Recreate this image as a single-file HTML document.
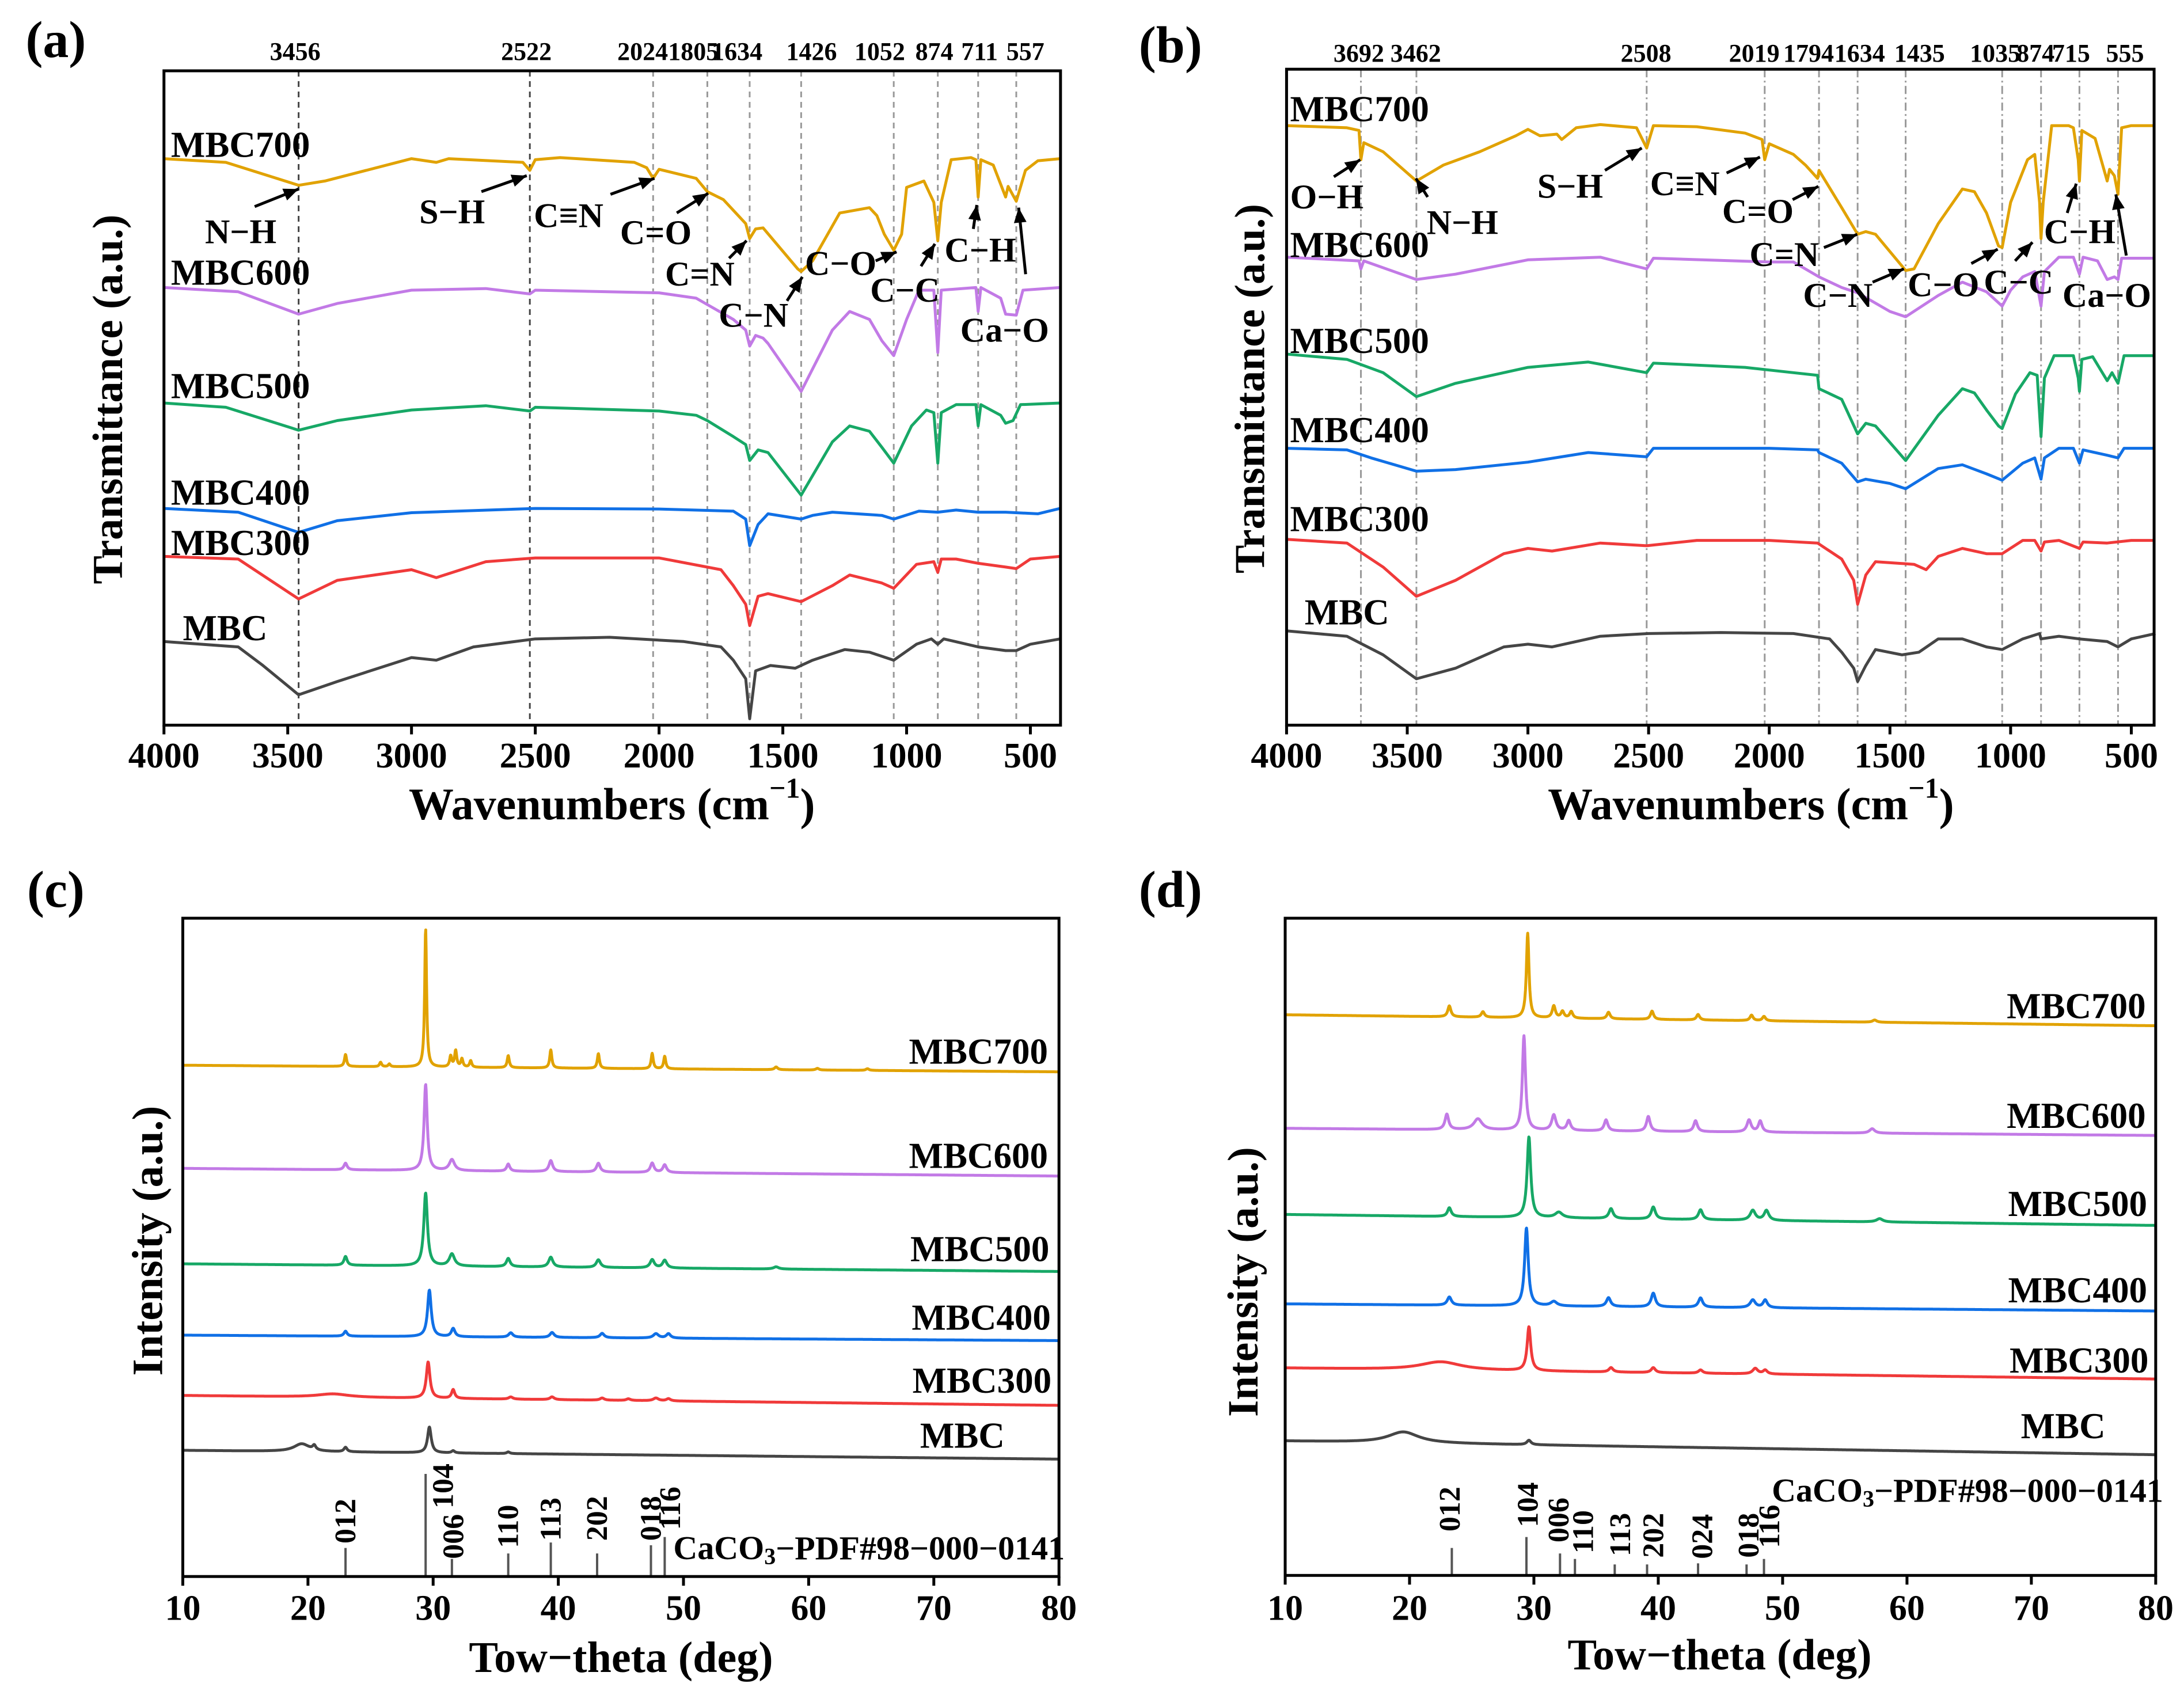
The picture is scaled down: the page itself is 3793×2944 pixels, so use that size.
<!DOCTYPE html>
<html><head><meta charset="utf-8"><title>FTIR and XRD of MBC samples</title>
<style>html,body{margin:0;padding:0;background:#fff}svg{display:block}</style></head>
<body>
<svg id="fig" xmlns="http://www.w3.org/2000/svg" width="3793" height="2944" viewBox="0 0 3793 2944">
<rect x="0" y="0" width="3793" height="2944" fill="#fff"/>
</svg>
<script>
// ---------- FTIR (a) data: wavenumbers (cm-1) and transmittance (a.u.) ----------
const a700_wn=[4000,3750,3456,3350,3000,2900,2850,2550,2522,2500,2400,2100,2050,2024,2000,1850,1805,1740,1650,1634,1610,1580,1440,1426,1380,1270,1150,1120,1090,1052,1020,1000,930,890,874,860,820,740,720,711,700,650,600,590,557,520,470,380];
const a700_t=[106.4,105.7,101.4,102.2,106.4,105.7,106.4,105.7,104.2,106.2,106.6,105.7,104.7,102.7,104.4,102.7,100.2,98.7,94.2,91.4,93.2,93.4,85.7,85.2,87.2,96.2,97.2,95.7,92.2,89.2,92.2,101,102.2,98.2,91,98.2,106.2,106.6,106.2,99.2,106.2,105.2,99.2,101.2,98.4,104.2,106,106.4];
const a600_wn=[4000,3700,3456,3300,3000,2700,2522,2500,2000,1850,1805,1700,1650,1634,1610,1580,1560,1426,1300,1230,1150,1100,1052,1000,950,890,874,860,720,711,700,620,600,557,530,380];
const a600_t=[82.2,81.4,77.2,79.2,81.7,82,81,81.7,81.2,80.2,79,76.2,74.2,71.2,73.2,72.7,71.7,62.7,74.2,77.7,76.2,72.2,69.4,76.2,81.7,81.7,70,81.7,82.2,77.7,82.2,80.2,77.2,77,81.7,82.2];
const a500_wn=[4000,3750,3456,3300,3000,2700,2522,2500,2000,1850,1805,1700,1650,1634,1600,1560,1426,1300,1230,1150,1100,1052,980,920,890,874,860,800,720,711,700,620,600,570,540,380];
const a500_t=[60.5,59.7,55.4,57.2,59.2,60,59,59.7,59,58.2,57.2,54.2,52.7,49.7,51.7,51.2,43.2,53.2,56.2,55.2,52.2,49.2,56.2,59.2,58.7,49.2,58.7,60.2,60.2,56.2,60.2,58.2,56.7,57.2,60.2,60.5];
const a400_wn=[4000,3700,3456,3300,3000,2500,2000,1700,1650,1634,1600,1560,1426,1380,1300,1100,1052,950,874,800,711,600,470,380];
const a400_t=[40.7,40,36.2,38.4,39.9,40.7,40.6,40.2,38.7,33.7,37.7,39.7,38.7,39.4,40,39.4,38.7,40.2,40,40.4,40,40,39.7,40.7];
const a300_wn=[4000,3700,3456,3300,3000,2900,2700,2500,2000,1750,1700,1650,1634,1600,1560,1426,1300,1230,1100,1052,960,890,874,860,800,711,600,557,500,380];
const a300_t=[31.7,31.2,23.7,27.2,29.2,27.7,30.7,31.4,31.4,29.2,26.2,22.7,18.7,24.2,24.7,23.2,26.2,28.2,26.7,25.7,30.2,30.7,28.7,31.2,31.2,30.4,29.7,29.4,31.2,31.7];
const aMBC_wn=[4000,3700,3600,3456,3300,3000,2900,2750,2500,2200,1900,1750,1700,1650,1634,1610,1550,1450,1380,1250,1150,1052,960,900,874,850,711,600,557,500,380];
const aMBC_t=[15.7,14.7,11.2,5.7,8.2,12.7,12.2,14.7,16.2,16.5,15.7,14.7,12.2,8.7,1.2,10.2,11.2,10.7,12.2,14.2,13.7,12.2,15.2,16.2,15.2,16.2,14.7,14,14,15.2,16.2];
const aMarks=[3456,2522,2024,1805,1634,1426,1052,874,711,557];

// ---------- FTIR (b) data ----------
const b700_wn=[4000,3750,3700,3692,3680,3600,3462,3350,3200,3050,3000,2950,2880,2860,2800,2700,2550,2508,2480,2300,2100,2030,2019,2000,1900,1850,1800,1794,1700,1634,1600,1560,1435,1400,1300,1200,1150,1100,1050,1035,1000,930,900,880,874,865,830,760,740,720,715,705,650,600,590,570,555,540,500,400];
const b700_t=[112.6,112.2,111.7,106.2,109.4,107.7,102.2,105.2,107.7,110.7,111.9,110.7,111,110,112.2,112.8,112.2,108.4,112.6,112.4,111.2,110,106.2,109.2,107.2,105.2,102.7,104.2,97.2,92.2,92.7,92.2,85.4,85.7,94.2,100.7,100.2,96.2,90,89.7,98.2,106.2,107.2,98.2,91.4,98.2,112.6,112.6,112.2,106.2,102.2,111.7,110.2,102.2,104.4,103.2,99.7,112.2,112.6,112.6];
const b600_wn=[4000,3700,3692,3680,3462,3300,3000,2700,2508,2480,2000,1900,1794,1700,1634,1500,1435,1300,1200,1100,1035,1000,950,900,874,860,800,740,715,700,640,600,570,555,540,400];
const b600_t=[87.9,87.2,85.7,87.2,83.7,84.7,87.4,87.9,85.7,87.7,87,87,84.2,82.2,81.2,77.7,76.7,80.7,83.2,81.4,78.7,81.7,84.2,85.2,78.7,85.2,87.9,87.9,84.7,87.9,87.2,83.7,84.2,83.7,87.7,87.7];
const b500_wn=[4000,3750,3600,3462,3300,3000,2750,2508,2480,2100,1900,1800,1794,1700,1634,1600,1560,1435,1300,1200,1150,1100,1050,1035,980,920,890,874,860,820,740,720,715,705,660,600,580,555,530,400];
const b500_t=[69.7,68.7,66.2,61.7,64.2,67.2,68.2,66.2,68,67.2,66.2,65.7,63.2,61.2,54.7,56.7,56.2,49.7,58.2,63.2,62.4,59.2,56.2,55.7,62.2,66.2,65.7,54.2,65.2,69.4,69.4,65.2,62.7,68.7,69.2,64.7,66.2,64.2,69.4,69.4];
const b400_wn=[4000,3750,3650,3462,3300,3000,2750,2508,2480,2000,1800,1794,1700,1634,1600,1500,1435,1300,1200,1100,1035,950,900,874,860,800,740,715,700,600,555,530,400];
const b400_t=[52,51.7,50.2,47.7,48,49.4,51.2,50.4,52,52,51.7,51.2,49.2,45.7,46.2,45.4,44.4,48.2,48.9,47.2,46,49.2,50.2,46.2,50.2,52,52,49.2,51.7,50.7,50.2,52,52];
const b300_wn=[4000,3750,3600,3462,3300,3100,3000,2900,2700,2508,2300,2000,1800,1700,1650,1634,1600,1560,1400,1350,1300,1200,1100,1035,950,900,874,860,800,715,700,600,500,400];
const b300_t=[34.9,34.2,29.7,24.2,27.2,32.2,33.2,32.7,34.2,33.7,34.7,34.7,34.2,31.2,27.2,22.7,28.2,30.7,30.2,29.2,31.7,33.2,32.2,32.2,34.7,34.7,32.7,34.4,34.7,33.2,34.4,34.2,34.7,34.7];
const bMBC_wn=[4000,3750,3600,3462,3300,3100,3000,2900,2700,2500,2200,1900,1750,1700,1650,1634,1600,1560,1450,1380,1300,1200,1100,1035,950,880,874,800,715,600,555,500,400];
const bMBC_t=[17.7,16.7,13.2,8.7,10.7,14.7,15.2,14.7,16.7,17.2,17.4,17.2,16.2,13.7,10.7,8.2,11.2,14.2,13.2,13.7,16.2,16.2,14.7,14.2,16.2,17.2,16.2,16.7,16.2,15.7,14.7,16.2,17.2];
const bMarks=[3692,3462,2508,2019,1794,1634,1435,1035,874,715,555];

// ---------- XRD (c) data: baseline start/end, peak positions (2θ), heights, widths ----------
const c700_base=[932,920]; const c700_pos=[23.0,25.8,26.5,29.4,31.4,31.8,32.3,33.0,36.0,39.4,43.2,47.5,48.5,57.4,60.7,64.7];
const c700_h=[22,8,5,253,20,30,15,12,22,33,27,28,23,5,3,3]; const c700_w=[0.2,0.2,0.2,0.18,0.2,0.2,0.2,0.2,0.2,0.2,0.2,0.2,0.2,0.3,0.3,0.3];
const c600_base=[744,730]; const c600_pos=[23,29.4,31.5,36,39.4,43.2,47.5,48.5];
const c600_h=[12,157,20,13,20,16,17,14]; const c600_w=[0.3,0.3,0.5,0.3,0.35,0.35,0.35,0.35];
const c500_base=[570,556]; const c500_pos=[23,29.4,31.5,36,39.4,43.2,47.5,48.5,57.4];
const c500_h=[16,133,22,15,18,14,15,14,4]; const c500_w=[0.3,0.35,0.5,0.35,0.4,0.4,0.4,0.4,0.5];
const c400_base=[440,430]; const c400_pos=[23,29.7,31.6,36.2,39.5,43.5,47.8,48.8];
const c400_h=[9,85,15,8,9,8,8,8]; const c400_w=[0.3,0.35,0.35,0.4,0.4,0.4,0.5,0.4];
const c300_base=[330,312]; const c300_pos=[22,29.6,31.6,36.2,39.5,43.5,45.6,47.8,48.8];
const c300_h=[6,66,16,4,5,4,3,5,4]; const c300_w=[3,0.35,0.3,0.4,0.4,0.4,0.4,0.5,0.4];
const cMBC_base=[230,214]; const cMBC_pos=[19.5,20.5,23,29.7,31.6,36];
const cMBC_h=[14,8,8,47,4,3]; const cMBC_w=[1.5,0.3,0.3,0.35,0.3,0.3];
const cRefHKL=['012','104','006','110','113','202','018','116'];
const cRefPos=[23.0,29.4,31.5,36.0,39.4,43.1,47.4,48.5];
const cRefInt=[52,187,32,42,62,42,57,72];

// ---------- XRD (d) data ----------
const d700_base=[1022,1002]; const d700_pos=[23.2,25.9,29.5,31.6,32.3,33.0,36.0,39.5,43.2,47.5,48.5,57.4];
const d700_h=[20,10,154,22,12,12,12,15,10,10,8,4]; const d700_w=[0.3,0.3,0.25,0.3,0.3,0.3,0.3,0.3,0.3,0.3,0.3,0.4];
const d600_base=[815,802]; const d600_pos=[23,25.5,29.2,31.6,32.8,35.8,39.2,43.0,47.3,48.2,57.2];
const d600_h=[28,20,172,28,18,20,27,20,22,20,8]; const d600_w=[0.35,0.8,0.3,0.4,0.35,0.35,0.35,0.35,0.4,0.35,0.5];
const d500_base=[658,638]; const d500_pos=[23.2,29.6,32,36.2,39.6,43.4,47.6,48.7,57.8];
const d500_h=[16,147,10,18,22,18,18,18,6]; const d500_w=[0.35,0.35,0.7,0.4,0.4,0.4,0.5,0.45,0.6];
const d400_base=[495,482]; const d400_pos=[23.2,29.4,31.6,36,39.6,43.4,47.6,48.6];
const d400_h=[15,142,8,16,25,17,14,14]; const d400_w=[0.4,0.35,0.6,0.4,0.4,0.4,0.5,0.4];
const d300_base=[378,358]; const d300_pos=[22.5,29.6,36.2,39.6,43.4,47.8,48.6];
const d300_h=[15,80,8,9,6,10,7]; const d300_w=[4,0.35,0.4,0.4,0.4,0.5,0.4];
const dMBC_base=[245,220]; const dMBC_pos=[19.5,29.6];
const dMBC_h=[20,8]; const dMBC_w=[3,0.4];
const dRefHKL=['012','104','006','110','113','202','024','018','116'];
const dRefPos=[23.4,29.4,32.1,33.3,36.5,39.1,43.2,47.1,48.5];
const dRefInt=[50,70,40,30,20,20,22,20,30];

const xrdTicks=[10,20,30,40,50,60,70,80];
const ftirTicks=[4000,3500,3000,2500,2000,1500,1000,500];

// ---------- drawing ----------
const NS='http://www.w3.org/2000/svg';
const svg=document.getElementById('fig');
const FONT='"Liberation Serif", "Times New Roman", serif';
function mk(tag,attrs,parent){const e=document.createElementNS(NS,tag);for(const k in attrs)e.setAttribute(k,attrs[k]);(parent||svg).appendChild(e);return e;}
const COL={c700:'#E1A200',c600:'#C27AE6',c500:'#17A866',c400:'#1070E6',c300:'#F03A3A',cMBC:'#454545'};
const PA={cx:0,cy:0,cw:1900,ch:1450},PB={cx:1900,cy:0,cw:1893,ch:1450},PC={cx:0,cy:1450,cw:1900,ch:1494},PD={cx:1900,cy:1450,cw:1893,ch:1494};
function X(p,z){return p.cx+z*p.cw/1568;}
function Y(p,z){return p.cy+z*p.ch/1568;}
function text(g,str,x,y,size,anchor,name){const t=mk('text',{x:x,y:y,'font-family':FONT,'font-weight':'bold','font-size':size,'text-anchor':anchor||'middle','dominant-baseline':'central',fill:'#000'},g);t.textContent=str;


return t;}
function arrow(g,p,x1,y1,x2,y2,name){
 const ax1=X(p,x1),ay1=Y(p,y1),ax2=X(p,x2),ay2=Y(p,y2);
 const l=mk('line',{x1:ax1,y1:ay1,x2:ax2,y2:ay2,stroke:'#000','stroke-width':5},g);
 
 
 const ang=Math.atan2(ay2-ay1,ax2-ax1),L=26,Wd=11;
 const bx=ax2-L*Math.cos(ang),by=ay2-L*Math.sin(ang);
 const hd=mk('polygon',{points:`${ax2},${ay2} ${bx+Wd*Math.sin(ang)},${by-Wd*Math.cos(ang)} ${bx-Wd*Math.sin(ang)},${by+Wd*Math.cos(ang)}`,fill:'#000'},g);
 
 
}
function frame(g,p,L,R,T,B,name){const r=mk('rect',{x:X(p,L),y:Y(p,T),width:X(p,R)-X(p,L),height:Y(p,B)-Y(p,T),fill:'none',stroke:'#000','stroke-width':5},g);

}

function drawFTIR(p,cfg){
 const g=mk('g',{});
 
 
 const xs=w=>X(p,cfg.x0+(4000-w)/500*cfg.d500);
 const ys=t=>Y(p,1362-10*t);
 // marker lines
 cfg.marks.forEach((m,i)=>{
  const l=mk('line',{x1:xs(m),x2:xs(m),y1:Y(p,cfg.top),y2:Y(p,1362),stroke:cfg.dashCol(i),'stroke-width':3,'stroke-dasharray':cfg.dash},g);
  
  
  text(g,String(m),xs(m)+(cfg.markDx[i]*p.cw/1568),Y(p,cfg.markY),44,'middle','marker-label-'+m);
 });
 cfg.series.forEach(s=>{
  let d='';s.wn.forEach((w,i)=>{d+=(i?'L':'M')+xs(w).toFixed(1)+','+ys(s.t[i]).toFixed(1);});
  const path=mk('path',{d:d,fill:'none',stroke:s.col,'stroke-width':5,'stroke-linejoin':'round'},g);
  
  
  text(g,s.label,X(p,s.lx),Y(p,s.ly),63,'start','label-'+s.label.toLowerCase());
 });
 frame(g,p,cfg.x0,cfg.right,cfg.top,1362,'plot-frame');
 ftirTicks.forEach(v=>{const x=xs(v);
  const tk=mk('line',{x1:x,x2:x,y1:Y(p,1362),y2:Y(p,1362)+16,stroke:'#000','stroke-width':5},g);
  
  
  text(g,String(v),x,Y(p,1420),62,'middle','x-tick-label-'+v);});
 const ti=mk('text',{x:X(p,cfg.titleX),y:Y(p,1510),'font-family':FONT,'font-weight':'bold','font-size':78,'text-anchor':'middle','dominant-baseline':'central'},g);
 
 
 ti.innerHTML='Wavenumbers (cm<tspan dy="-28" font-size="50">−1</tspan><tspan dy="28">)</tspan>';
 const yt=mk('text',{x:0,y:0,transform:`translate(${X(p,cfg.ytX)},${Y(p,cfg.ytY)}) rotate(-90)`,'font-family':FONT,'font-weight':'bold','font-size':74,'text-anchor':'middle','dominant-baseline':'central'},g);
 yt.textContent='Transmittance (a.u.)';
 
 
 text(g,cfg.letter,X(p,cfg.letX),Y(p,cfg.letY),90,'middle','panel-letter');
 cfg.ann.forEach(a=>{text(g,a[0],X(p,a[1]),Y(p,a[2]),60,'middle','bond-label-'+a[0]);arrow(g,p,a[3],a[4],a[5],a[6],'bond-arrow');});
}

drawFTIR(PA,{name:'panel-a-ftir',x0:235,d500:177.4,right:1520,top:133,markY:97,letter:'(a)',letX:80,letY:75,titleX:877,ytX:155,ytY:750,
 dash:'10,8',dashCol:i=>i<2?'#444':'#999',
 marks:aMarks,markDx:[-5,-5,-15,-20,-18,15,-20,-5,2,13],
 series:[{wn:a700_wn,t:a700_t,col:COL.c700,label:'MBC700',lx:245,ly:272},
  {wn:a600_wn,t:a600_t,col:COL.c600,label:'MBC600',lx:245,ly:512},
  {wn:a500_wn,t:a500_t,col:COL.c500,label:'MBC500',lx:245,ly:725},
  {wn:a400_wn,t:a400_t,col:COL.c400,label:'MBC400',lx:245,ly:925},
  {wn:a300_wn,t:a300_t,col:COL.c300,label:'MBC300',lx:245,ly:1020},
  {wn:aMBC_wn,t:aMBC_t,col:COL.cMBC,label:'MBC',lx:262,ly:1180}],
 ann:[['N−H',345,435,365,388,428,355],['S−H',648,398,690,360,755,330],['C≡N',815,405,875,365,938,335],['C=O',940,437,970,400,1015,363],
  ['C=N',1003,515,1045,485,1070,452],['C−N',1080,592,1128,565,1150,520],['C−O',1205,495,1255,490,1285,473],['C−C',1297,545,1320,500,1340,458],
  ['C−H',1405,470,1395,430,1400,385],['Ca−O',1440,620,1470,515,1460,390]]});

drawFTIR(PB,{name:'panel-b-ftir',x0:277,d500:173.6,right:1525,top:130,markY:100,letter:'(b)',letX:110,letY:85,titleX:945,ytX:225,ytY:730,
 dash:'14,6,3,6',dashCol:i=>'#999',
 marks:bMarks,markDx:[-3,-1,-1,-15,-15,3,20,-10,-8,-12,10],
 series:[{wn:b700_wn,t:b700_t,col:COL.c700,label:'MBC700',lx:282,ly:205},
  {wn:b600_wn,t:b600_t,col:COL.c600,label:'MBC600',lx:282,ly:460},
  {wn:b500_wn,t:b500_t,col:COL.c500,label:'MBC500',lx:282,ly:640},
  {wn:b400_wn,t:b400_t,col:COL.c400,label:'MBC400',lx:282,ly:808},
  {wn:b300_wn,t:b300_t,col:COL.c300,label:'MBC300',lx:282,ly:975},
  {wn:bMBC_wn,t:bMBC_t,col:COL.cMBC,label:'MBC',lx:303,ly:1150}],
 ann:[['O−H',335,370,345,332,383,300],['N−H',530,418,480,370,463,335],['S−H',685,350,735,320,788,278],['C≡N',850,345,910,325,958,295],
  ['C=O',955,397,1005,375,1042,350],['C=N',993,478,1050,465,1098,440],['C−N',1070,555,1120,530,1165,505],['C−O',1222,535,1262,495,1300,468],
  ['C−C',1330,530,1325,490,1350,455],['C−H',1418,435,1400,400,1413,345],['Ca−O',1457,555,1485,480,1470,365]]});

function drawXRD(p,cfg){
 const g=mk('g',{});
 
 
 const xs=t=>X(p,cfg.x0+(t-10)*cfg.dDeg);
 const ys=I=>Y(p,cfg.bottom-I);
 cfg.series.forEach(s=>{
  let d='';let first=true;
  for(let t=10;t<=80.001;t+=0.03){
   let I=s.base[0]+(s.base[1]-s.base[0])*(t-10)/70;
   for(let k=0;k<s.pos.length;k++){const gm=s.w[k]/2;I+=s.h[k]*gm*gm/((t-s.pos[k])*(t-s.pos[k])+gm*gm);}
   d+=(first?'M':'L')+xs(t).toFixed(1)+','+ys(I).toFixed(1);first=false;
  }
  const path=mk('path',{d:d,fill:'none',stroke:s.col,'stroke-width':5,'stroke-linejoin':'round'},g);
  
  
  text(g,s.label,X(p,s.lx),Y(p,s.ly),63,'end','label-'+s.label.toLowerCase());
 });
 cfg.hkl.forEach((h,i)=>{
  const x=xs(cfg.refPos[i]);
  const l=mk('line',{x1:x,x2:x,y1:Y(p,cfg.bottom),y2:ys(cfg.refInt[i]),stroke:'#555','stroke-width':4},g);
  
  
  const lx=x+cfg.refDx[i]*p.cw/1568+17, ly=Y(p,cfg.refLabY[i]);
  const t=mk('text',{x:0,y:0,transform:`translate(${lx},${ly}) rotate(-90)`,'font-family':FONT,'font-weight':'bold','font-size':52,'text-anchor':'start'},g);
  t.textContent=h;
  
  
 });
 const pdf=mk('text',{x:X(p,cfg.pdfX),y:Y(p,cfg.pdfY),'font-family':FONT,'font-weight':'bold','font-size':58,'text-anchor':'start','dominant-baseline':'central'},g);
 pdf.innerHTML='CaCO<tspan dy="14" font-size="40">3</tspan><tspan dy="-14">−PDF#98−000−0141</tspan>';
 
 
 frame(g,p,cfg.x0,cfg.x0+70*cfg.dDeg,152,cfg.bottom,'plot-frame');
 xrdTicks.forEach(v=>{const x=xs(v);
  const tk=mk('line',{x1:x,x2:x,y1:Y(p,cfg.bottom),y2:Y(p,cfg.bottom)+16,stroke:'#000','stroke-width':5},g);
  
  
  text(g,String(v),x,Y(p,1410),62,'middle','x-tick-label-'+v);});
 const ti=text(g,'Tow−theta (deg)',X(p,cfg.titleX),Y(p,cfg.titleY),76,'middle','x-axis-title');
 const yt=mk('text',{x:0,y:0,transform:`translate(${X(p,cfg.ytX)},${Y(p,cfg.ytY)}) rotate(-90)`,'font-family':FONT,'font-weight':'bold','font-size':75,'text-anchor':'middle','dominant-baseline':'central'},g);
 yt.textContent='Intensity (a.u.)';
 
 
 text(g,cfg.letter,X(p,cfg.letX),Y(p,cfg.letY),90,'middle','panel-letter');
}

drawXRD(PC,{name:'panel-c-xrd',x0:262,dDeg:17.94,bottom:1352,letter:'(c)',letX:80,letY:100,titleX:890,titleY:1500,ytX:212,ytY:740,pdfX:965,pdfY:1300,
 hkl:cRefHKL,refPos:cRefPos,refInt:cRefInt,refDx:[0,25,2,0,0,0,0,8],refLabY:[1292,1228,1320,1300,1287,1287,1287,1267],
 series:[{base:c700_base,pos:c700_pos,h:c700_h,w:c700_w,col:COL.c700,label:'MBC700',lx:1502,ly:395},
  {base:c600_base,pos:c600_pos,h:c600_h,w:c600_w,col:COL.c600,label:'MBC600',lx:1502,ly:585},
  {base:c500_base,pos:c500_pos,h:c500_h,w:c500_w,col:COL.c500,label:'MBC500',lx:1504,ly:755},
  {base:c400_base,pos:c400_pos,h:c400_h,w:c400_w,col:COL.c400,label:'MBC400',lx:1506,ly:880},
  {base:c300_base,pos:c300_pos,h:c300_h,w:c300_w,col:COL.c300,label:'MBC300',lx:1507,ly:995},
  {base:cMBC_base,pos:cMBC_pos,h:cMBC_h,w:cMBC_w,col:COL.cMBC,label:'MBC',lx:1440,ly:1095}]});

drawXRD(PD,{name:'panel-d-xrd',x0:275,dDeg:17.89,bottom:1350,letter:'(d)',letX:110,letY:100,titleX:900,titleY:1495,ytX:215,ytY:815,pdfX:975,pdfY:1195,
 hkl:dRefHKL,refPos:dRefPos,refInt:dRefInt,refDx:[-3,2,-2,12,8,9,6,3,8],refLabY:[1270,1262,1290,1310,1315,1318,1320,1318,1300],
 series:[{base:d700_base,pos:d700_pos,h:d700_h,w:d700_w,col:COL.c700,label:'MBC700',lx:1513,ly:312},
  {base:d600_base,pos:d600_pos,h:d600_h,w:d600_w,col:COL.c600,label:'MBC600',lx:1513,ly:512},
  {base:d500_base,pos:d500_pos,h:d500_h,w:d500_w,col:COL.c500,label:'MBC500',lx:1515,ly:673},
  {base:d400_base,pos:d400_pos,h:d400_h,w:d400_w,col:COL.c400,label:'MBC400',lx:1515,ly:830},
  {base:d300_base,pos:d300_pos,h:d300_h,w:d300_w,col:COL.c300,label:'MBC300',lx:1517,ly:958},
  {base:dMBC_base,pos:dMBC_pos,h:dMBC_h,w:dMBC_w,col:COL.cMBC,label:'MBC',lx:1455,ly:1078}]});
</script>
</body></html>
